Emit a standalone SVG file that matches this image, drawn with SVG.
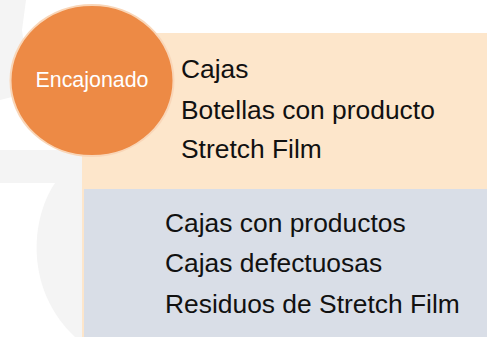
<svg xmlns="http://www.w3.org/2000/svg" width="487" height="337" viewBox="0 0 487 337">
<style>
.t{font-family:"Liberation Sans",Arial,sans-serif;font-size:26.4px;fill:#111111}
.c{font-family:"Liberation Sans",Arial,sans-serif;font-size:21.4px;fill:#ffffff}
</style>
<rect width="487" height="337" fill="#ffffff"/>
<g id="watermark" fill="#f4f4f4">
<path d="M0 0 H26 L22 30 L26 60 L20 95 L0 100 Z"/>
<rect x="0" y="150" width="82" height="33"/>
<path d="M55 183 C30 220 25 290 75 337 H82 V183 Z"/>
</g>
<g id="inputs">
<rect x="82" y="33" width="405" height="304" fill="#fde6cb"/>
<text class="t" x="181" y="78">Cajas</text>
<text class="t" x="181" y="119">Botellas con producto</text>
<text class="t" x="181" y="158">Stretch Film</text>
</g>
<g id="outputs">
<rect x="84" y="189" width="403" height="148" fill="#d9dee7"/>
<text class="t" x="165" y="232">Cajas con productos</text>
<text class="t" x="165" y="272">Cajas defectuosas</text>
<text class="t" x="165" y="313">Residuos de Stretch Film</text>
</g>
<g id="encajonado">
<ellipse cx="92" cy="80.5" rx="81.5" ry="75.5" fill="#ed8a45" stroke="#f9d6b8" stroke-width="2"/>
<text class="c" x="92" y="87" text-anchor="middle">Encajonado</text>
</g>
<g id="connectors"></g>
</svg>
